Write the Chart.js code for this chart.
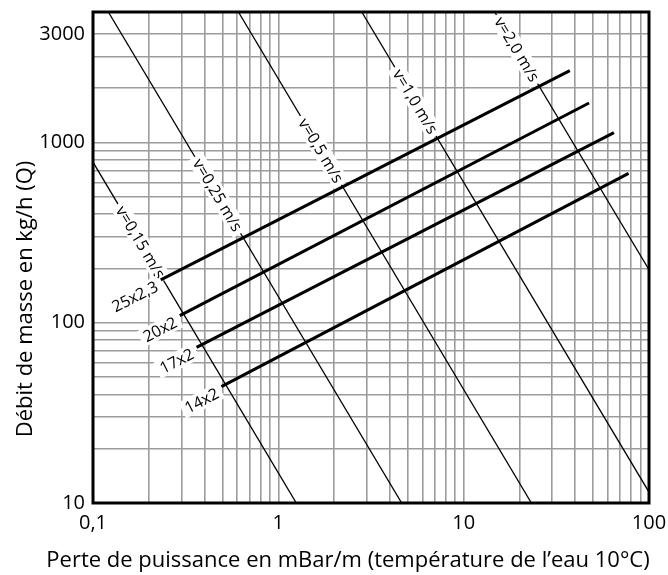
<!DOCTYPE html>
<html>
<head>
<meta charset="utf-8">
<script src="https://cdn.jsdelivr.net/npm/chart.js@4"></script>
<style>
  html, body { margin: 0; padding: 0; background: #fff; }
  #wrap { width: 668px; height: 575px; }
</style>
</head>
<body>
<div id="wrap"><canvas id="c" width="668" height="575"></canvas></div>
<script>
// pipe lines: start and end points (mbar/m, kg/h)
const pipeNames = ['25x2,3', '20x2', '17x2', '14x2'];
const pipeX = [[0.232, 37.4], [0.294, 47.5], [0.362, 64.7], [0.493, 77.6]];
const pipeY = [[173, 2506], [109.5, 1658], [73.1, 1135], [44.2, 675]];

// velocity lines
const velNames = ['v=0,15 m/s', 'v=0,25 m/s', 'v=0,5 m/s', 'v=1,0 m/s', 'v=2,0 m/s'];
const velX = [[0.1, 1.25], [0.121, 4.63], [0.609, 23.2], [2.82, 100], [14.7, 100]];
const velY = [[778, 10], [5300, 10], [5300, 10], [5300, 11.5], [5300, 197]];
const velLabelX = [0.181, 0.471, 1.70, 5.49, 19.4]; // where the label sits on the line

// axes
const xMin = 0.1, xMax = 100;
const yMin = 10, yMax = 5300, yGridTop = 4000;
const xTickValues = [0.1, 1, 10, 100];
const xTickLabels = ['0,1', '1', '10', '100'];
const yTickValues = [10, 100, 1000, 4000];
const yTickLabels = ['10', '100', '1000', '3000'];

const xTitle = 'Perte de puissance en mBar/m (température de l’eau 10°C)';
const yTitle = 'Débit de masse en kg/h (Q)';

const FONT = '"Open Sans", "Noto Sans", sans-serif';

// grid lines at 1..9 x 10^n
function gridValues(lo, hi){
  var out = [];
  for (var e = Math.floor(Math.log10(lo)); e <= Math.ceil(Math.log10(hi)); e++){
    for (var m = 1; m <= 9; m++){
      var v = +(m * Math.pow(10, e)).toPrecision(6);
      if (v >= lo * 0.999 && v <= hi * 1.001) out.push(v);
    }
  }
  return out;
}

function labelFor(values, labels, v){
  for (var i = 0; i < values.length; i++){
    if (Math.abs(values[i] - v) / values[i] < 1e-6) return labels[i];
  }
  return '';
}

function seg(xs, ys){
  return [{x: xs[0], y: ys[0]}, {x: xs[1], y: ys[1]}];
}

var datasets = [];
pipeNames.forEach(function(n, i){
  datasets.push({ label: n, data: seg(pipeX[i], pipeY[i]), borderColor: '#000', borderWidth: 3,
                  showLine: true, pointRadius: 0, borderCapStyle: 'butt' });
});
velNames.forEach(function(n, i){
  datasets.push({ label: n, data: seg(velX[i], velY[i]), borderColor: '#000', borderWidth: 1.3,
                  showLine: true, pointRadius: 0 });
});

// text with a white box, rotated
function tag(ctx, text, x, y, ang, align, size){
  ctx.save();
  ctx.translate(x, y);
  ctx.rotate(ang);
  ctx.font = size + 'px ' + FONT;
  var w = ctx.measureText(text).width;
  var x0 = align === 'right' ? -w : -w / 2;
  ctx.fillStyle = '#fff';
  ctx.fillRect(x0 - 4, -size * 0.55, w + 8, size * 1.1);
  ctx.fillStyle = '#000';
  ctx.textAlign = 'left';
  ctx.textBaseline = 'middle';
  ctx.fillText(text, x0, 1);
  ctx.restore();
}

var decor = {
  id: 'decor',
  afterDatasetDraw: function(chart, args){
    // velocity labels go on top of the thin lines but under the pipes
    if (args.index !== pipeNames.length) return;
    var ctx = chart.ctx, xs = chart.scales.x, ys = chart.scales.y;
    ctx.save();
    ctx.beginPath();
    ctx.rect(chart.chartArea.left, chart.chartArea.top, chart.chartArea.width, chart.chartArea.height);
    ctx.clip();
    velNames.forEach(function(n, i){
      var lx = Math.log10(velX[i][0]), rx = Math.log10(velX[i][1]);
      var ly = Math.log10(velY[i][0]), ry = Math.log10(velY[i][1]);
      var t = (Math.log10(velLabelX[i]) - lx) / (rx - lx);
      var yv = Math.pow(10, ly + t * (ry - ly));
      var p0x = xs.getPixelForValue(velX[i][0]), p0y = ys.getPixelForValue(velY[i][0]);
      var p1x = xs.getPixelForValue(velX[i][1]), p1y = ys.getPixelForValue(velY[i][1]);
      var ang = Math.atan2(p1y - p0y, p1x - p0x);
      tag(ctx, n, xs.getPixelForValue(velLabelX[i]), ys.getPixelForValue(yv), ang, 'center', 16);
    });
    ctx.restore();
  },
  afterDatasetsDraw: function(chart){
    var ctx = chart.ctx, xs = chart.scales.x, ys = chart.scales.y;
    pipeNames.forEach(function(n, i){
      var p0x = xs.getPixelForValue(pipeX[i][0]), p0y = ys.getPixelForValue(pipeY[i][0]);
      var p1x = xs.getPixelForValue(pipeX[i][1]), p1y = ys.getPixelForValue(pipeY[i][1]);
      var ang = Math.atan2(p1y - p0y, p1x - p0x);
      var ux = Math.cos(ang), uy = Math.sin(ang);
      // a bit before the start, nudged below the line
      var ax = p0x - 6 * ux - 3 * uy, ay = p0y - 6 * uy + 3 * ux;
      tag(ctx, n, ax, ay, ang, 'right', 16);
    });
  },
  afterDraw: function(chart){
    var ctx = chart.ctx, a = chart.chartArea;
    ctx.save();
    ctx.strokeStyle = '#000';
    ctx.lineWidth = 3;
    ctx.strokeRect(a.left, a.top, a.right - a.left, a.bottom - a.top);

    ctx.fillStyle = '#000';
    ctx.font = '22px ' + FONT;
    ctx.textAlign = 'center';
    ctx.textBaseline = 'alphabetic';
    ctx.fillText(xTitle, 348, 567);

    ctx.translate(32, 299);
    ctx.rotate(-Math.PI / 2);
    ctx.fillText(yTitle, 0, 0);
    ctx.restore();
  }
};

new Chart(document.getElementById('c'), {
  type: 'scatter',
  data: { datasets: datasets },
  plugins: [decor],
  options: {
    responsive: false,
    animation: false,
    layout: { padding: { left: 0, right: 19, top: 12, bottom: 0 } },
    plugins: { legend: { display: false }, tooltip: { enabled: false } },
    scales: {
      x: {
        type: 'logarithmic', min: xMin, max: xMax,
        afterBuildTicks: function(s){ s.ticks = gridValues(xMin, xMax).map(function(v){ return {value: v}; }); },
        afterFit: function(s){ s.height = 72; s.paddingLeft = 0; s.paddingRight = 0; },
        grid: { color: '#9c9c9c', lineWidth: 1.6, drawTicks: false },
        border: { display: false },
        ticks: {
          autoSkip: false, maxRotation: 0, padding: 8, color: '#000',
          font: { family: FONT, size: 20 },
          callback: function(v){ return labelFor(xTickValues, xTickLabels, v); }
        }
      },
      y: {
        type: 'logarithmic', min: yMin, max: yMax,
        afterBuildTicks: function(s){ s.ticks = gridValues(yMin, yGridTop).map(function(v){ return {value: v}; }); },
        afterFit: function(s){ s.width = 93; s.paddingTop = 0; s.paddingBottom = 0; },
        grid: { color: '#9c9c9c', lineWidth: 1.6, drawTicks: false },
        border: { display: false },
        ticks: {
          autoSkip: false, padding: 8, color: '#000',
          font: { family: FONT, size: 20 },
          callback: function(v){ return labelFor(yTickValues, yTickLabels, v); }
        }
      }
    }
  }
});
</script>
</body>
</html>
